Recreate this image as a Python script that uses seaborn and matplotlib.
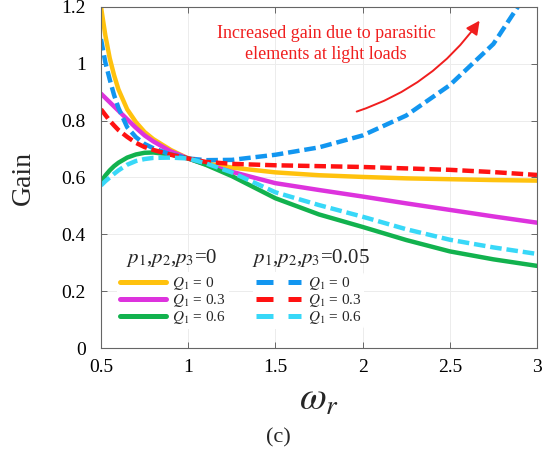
import matplotlib
matplotlib.use("Agg")
import matplotlib.pyplot as plt
import seaborn as sns
from matplotlib.lines import Line2D

# values
w = [0.5, 0.525, 0.55, 0.575, 0.6, 0.65, 0.7, 0.75, 0.8, 0.9, 1.0,
     1.1, 1.25, 1.5, 1.75, 2.0, 2.25, 2.5, 2.75, 3.0]
gain_q0 = [1.20, 1.10, 1.02, 0.96, 0.91, 0.84, 0.795, 0.76, 0.735, 0.697, 0.667,
           0.650, 0.635, 0.618, 0.608, 0.602, 0.597, 0.594, 0.591, 0.589]
gain_q03 = [0.895, 0.88, 0.865, 0.85, 0.835, 0.805, 0.775, 0.748, 0.727, 0.692, 0.667,
            0.646, 0.62, 0.58, 0.556, 0.533, 0.509, 0.486, 0.463, 0.441]
gain_q06 = [0.585, 0.607, 0.625, 0.64, 0.652, 0.67, 0.681, 0.687, 0.688, 0.681, 0.667,
            0.645, 0.605, 0.527, 0.47, 0.426, 0.38, 0.34, 0.312, 0.289]

# parasitic case p1,p2,p3 = 0.05
w_par_q0 = [0.5, 0.525, 0.55, 0.575, 0.6, 0.65, 0.7, 0.75, 0.8, 0.9, 1.0,
            1.1, 1.25, 1.5, 1.75, 2.0, 2.25, 2.5, 2.75, 2.9]
par_q0 = [1.087, 1.005, 0.945, 0.89, 0.845, 0.777, 0.742, 0.718, 0.703, 0.681, 0.667,
          0.661, 0.662, 0.680, 0.706, 0.748, 0.818, 0.925, 1.07, 1.21]
par_q03 = [0.84, 0.82, 0.80, 0.783, 0.767, 0.743, 0.722, 0.707, 0.697, 0.680, 0.667,
           0.655, 0.648, 0.643, 0.640, 0.637, 0.632, 0.627, 0.619, 0.609]
par_q06 = [0.572, 0.587, 0.60, 0.613, 0.625, 0.645, 0.658, 0.665, 0.669, 0.670, 0.667,
           0.650, 0.618, 0.548, 0.503, 0.462, 0.418, 0.381, 0.354, 0.331]

q_labels = [r"$Q_{\mathit{1}}$ = 0", r"$Q_{\mathit{1}}$ = 0.3", r"$Q_{\mathit{1}}$ = 0.6"]
group_titles = [r"$p_1$,$p_2$,$p_3$=0", r"$p_1$,$p_2$,$p_3$=0.05"]
solid_colors = ["#ffc20e", "#dd33dd", "#12b24e"]
dash_colors = ["#1296f0", "#ff1212", "#38d8f8"]

sns.set_theme(style="ticks")
plt.rcParams["font.family"] = "serif"
plt.rcParams["font.serif"] = ["Liberation Serif", "DejaVu Serif"]
plt.rcParams["mathtext.fontset"] = "stix"

fig = plt.figure(figsize=(5.51, 4.57), dpi=100)
ax = fig.add_axes([0.1833, 0.2385, 0.7913, 0.7462])

lw = 3.2
dash = (0, (2.6, 1.1))
for ys, c in zip([gain_q0, gain_q03, gain_q06], solid_colors):
    sns.lineplot(x=w, y=ys, color=c, linewidth=lw, ax=ax, legend=False)
sns.lineplot(x=w_par_q0, y=par_q0, color=dash_colors[0], linewidth=lw,
             linestyle=dash, ax=ax, legend=False)
sns.lineplot(x=w, y=par_q03, color=dash_colors[1], linewidth=lw,
             linestyle=dash, ax=ax, legend=False)
sns.lineplot(x=w, y=par_q06, color=dash_colors[2], linewidth=lw,
             linestyle=dash, ax=ax, legend=False)

ax.set_xlim(0.5, 3)
ax.set_ylim(0, 1.2)
ax.set_xticks([0.5, 1, 1.5, 2, 2.5, 3])
ax.set_xticklabels(["0.5", "1", "1.5", "2", "2.5", "3"])
ax.set_yticks([0, 0.2, 0.4, 0.6, 0.8, 1.0, 1.2])
ax.set_yticklabels(["0", "0.2", "0.4", "0.6", "0.8", "1", "1.2"])
ax.grid(True, color="#ececec", linewidth=0.7)
ax.set_axisbelow(True)
for s in ax.spines.values():
    s.set_color("#666666")
    s.set_linewidth(0.8)
ax.tick_params(direction="in", top=True, right=True, length=4, width=0.7,
               color="#666666", labelsize=14, labelcolor="black")
ax.tick_params(axis="x", pad=8)
ax.tick_params(axis="y", pad=11)

ax.set_ylabel("Gain", fontsize=20, labelpad=18)
ax.set_xlabel(r"$\omega_r$", fontsize=28, labelpad=4)
fig.text(0.505, 0.042, "(c)", fontsize=16, ha="center", va="center")

# annotation
red = "#f01e1e"
ax.text(1.79, 1.07, "Increased gain due to parasitic\nelements at light loads",
        color=red, fontsize=13, ha="center", va="center", linespacing=1.3)
ax.annotate("", xy=(2.68, 1.16), xytext=(1.951, 0.829),
            arrowprops=dict(arrowstyle="-|>", color=red, lw=1.4,
                            mutation_scale=20,
                            connectionstyle="arc3,rad=0.17"))

# two-column legend, group titles as separate texts
leg_dash = (0, (3.4, 3.0))
h1 = [Line2D([], [], color=c, lw=3.6) for c in solid_colors]
h2 = [Line2D([], [], color=c, lw=3.6, linestyle=leg_dash) for c in dash_colors]
common = dict(handlelength=3.0, handletextpad=0.4, labelspacing=0.0,
              fontsize=11, frameon=True, facecolor="white", edgecolor="none",
              framealpha=1, borderpad=0.2)
leg1 = ax.legend(h1, q_labels, loc="upper left",
                 bbox_to_anchor=(0.02, 0.245), **common)
ax.add_artist(leg1)
leg2 = ax.legend(h2, q_labels, loc="upper left",
                 bbox_to_anchor=(0.33, 0.245), **common)
ax.text(0.057, 0.264, group_titles[0], transform=ax.transAxes,
        fontsize=15, ha="left", va="center")
ax.text(0.346, 0.264, group_titles[1], transform=ax.transAxes,
        fontsize=15, ha="left", va="center")

fig.savefig("out.png", dpi=100)
